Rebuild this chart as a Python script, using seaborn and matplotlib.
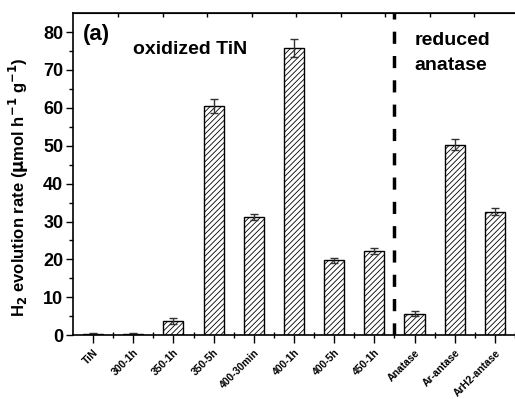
import numpy as np
import pandas as pd
import matplotlib
matplotlib.use("Agg")
import matplotlib.pyplot as plt
import seaborn as sns

samples = ["TiN", "300-1h", "350-1h", "350-5h", "400-30min", "400-1h",
           "400-5h", "450-1h", "Anatase", "Ar-antase", "ArH2-antase"]
rates = [0.4, 0.4, 3.8, 60.5, 31.2, 75.8, 19.8, 22.2, 5.7, 50.3, 32.6]
errors = [0.15, 0.15, 0.8, 1.8, 0.9, 2.3, 0.7, 0.7, 0.7, 1.5, 1.0]

df = pd.DataFrame({"sample": samples, "rate": rates, "err": errors})

sns.set_style("ticks", {"axes.edgecolor": "black", "text.color": "black",
                        "xtick.color": "black", "ytick.color": "black",
                        "axes.labelcolor": "black"})
plt.rcParams["font.family"] = ["Liberation Sans", "DejaVu Sans"]
plt.rcParams["font.weight"] = "bold"
plt.rcParams["hatch.linewidth"] = 0.6

fig = plt.figure(figsize=(5.15, 3.99), dpi=100)
ax = fig.add_axes([0.1417, 0.160, 0.8583, 0.807])

sns.barplot(data=df, x="sample", y="rate", color="white", edgecolor="black",
            linewidth=1.0, width=0.5, hatch="//////", errorbar=None, ax=ax)
ax.errorbar(np.arange(len(samples)), df["rate"], yerr=df["err"], fmt="none",
            ecolor="#333333", elinewidth=1.0, capsize=3, capthick=1.0)

# boundary between the two sample groups
ax.axvline(7.5, color="black", linestyle=(0, (3.5, 3.5)), linewidth=2.5)

ax.set_xlim(-0.5, 10.47)
ax.set_ylim(0, 85)
ax.set_yticks(np.arange(0, 81, 10))
ax.set_yticks(np.arange(5, 85, 10), minor=True)
ax.set_xticks(np.arange(len(samples)) + 0.5, minor=True)

ax.tick_params(axis="y", which="major", direction="out", length=5, width=1,
               labelsize=13, pad=2)
ax.tick_params(axis="y", which="minor", direction="out", length=3, width=1)
ax.tick_params(axis="x", which="major", direction="out", length=6, width=1, pad=3)
ax.tick_params(axis="x", which="minor", direction="inout", length=4, width=1)
plt.setp(ax.get_xticklabels(), rotation=45, ha="right", rotation_mode="anchor",
         fontsize=7.5, fontweight="bold")
for lab in ax.get_yticklabels():
    lab.set_fontweight("bold")

# top axis tick marks
top = ax.secondary_xaxis("top")
top.set_xticks(0.62 + 1.109 * np.arange(9))
top.set_xticklabels([])
top.tick_params(direction="in", length=3, width=1)

ax.spines["right"].set_visible(False)
for s in ["left", "bottom", "top"]:
    ax.spines[s].set_linewidth(1.2)

ax.set_xlabel("")
ax.set_ylabel(r"H$_\mathbf{2}$ evolution rate ($\mathbf{\mu}$mol h$^\mathbf{-1}$ g$^\mathbf{-1}$)",
              fontsize=12, fontweight="bold")
ax.yaxis.set_label_coords(-0.095, 0.46)

ax.text(-0.25, 79.5, "(a)", fontsize=16, fontweight="bold", va="center")
ax.text(1.0, 75.5, "oxidized TiN", fontsize=14, fontweight="bold", va="center")
ax.text(8.0, 77.7, "reduced", fontsize=14, fontweight="bold", va="center")
ax.text(8.0, 71.3, "anatase", fontsize=14, fontweight="bold", va="center")

fig.savefig("out.png", dpi=100)
